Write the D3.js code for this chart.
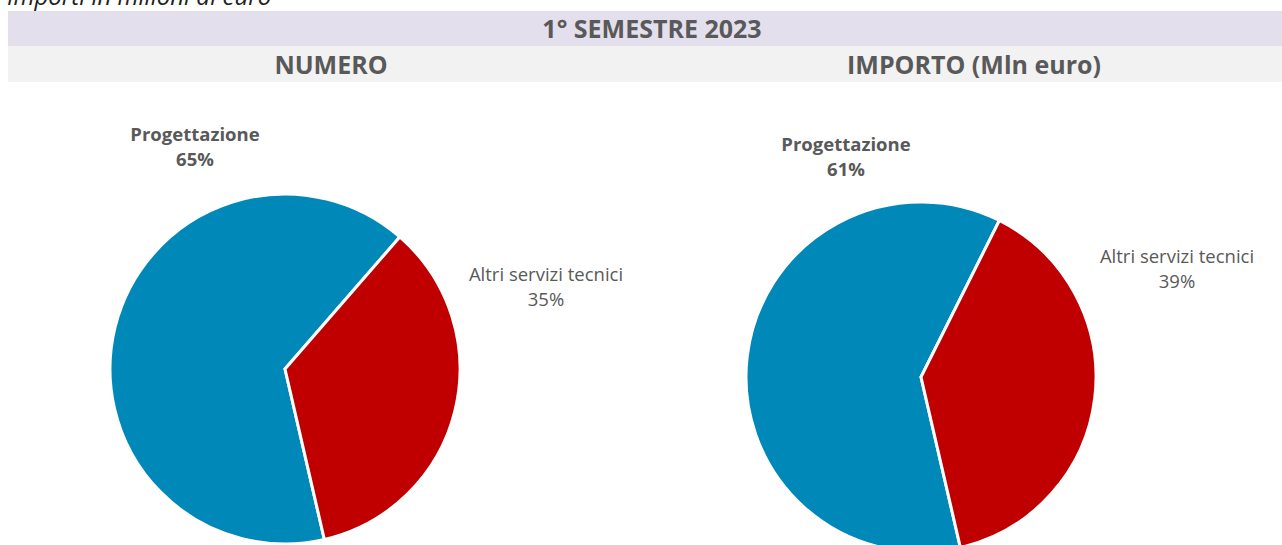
<!DOCTYPE html>
<html lang="it">
<head>
<meta charset="utf-8">
<title>1° semestre 2023</title>
<script src="https://d3js.org/d3.v7.min.js"></script>
<style>
  body { margin: 0; background: #fff; }
  text { font-family: "Open Sans", Lato, sans-serif; fill: #595959; }
</style>
</head>
<body>
<div id="chart"></div>
<script>
// data
var categories = ["Progettazione", "Altri servizi tecnici"];
var numeroShare = [65, 35];
var importoShare = [61, 39];
var panelTitles = ["NUMERO", "IMPORTO (Mln euro)"];
var periodTitle = "1° SEMESTRE 2023";
var subtitle = "Importi in milioni di euro";

var W = 1282, H = 545;
var color = d3.scaleOrdinal().domain(categories).range(["#0088B8", "#C00000"]);

var svg = d3.select("#chart").append("svg")
    .attr("width", W)
    .attr("height", H);

// subtitle, cut off at the top edge as in the source
svg.append("text")
    .attr("x", 7)
    .attr("y", 5)
    .style("font-style", "italic")
    .style("font-size", "24px")
    .style("fill", "#222")
    .text(subtitle);

// header bands
svg.append("rect").attr("x", 8).attr("y", 11).attr("width", W - 8).attr("height", 35).attr("fill", "#E4DFEC");
svg.append("rect").attr("x", 8).attr("y", 46).attr("width", W - 8).attr("height", 36).attr("fill", "#F2F2F2");

svg.append("text")
    .attr("x", 652).attr("y", 38)
    .attr("text-anchor", "middle")
    .style("font-weight", "bold")
    .style("font-size", "25px")
    .text(periodTitle);

var panelX = [331, 974];
svg.selectAll("text.ptitle")
    .data(panelTitles)
    .enter().append("text")
    .attr("class", "ptitle")
    .attr("x", function(d, i) { return panelX[i]; })
    .attr("y", 74)
    .attr("text-anchor", "middle")
    .style("font-weight", "bold")
    .style("font-size", "25px")
    .text(function(d) { return d; });

var radius = 175;
var pie = d3.pie().sort(null)
    .startAngle(167 * Math.PI / 180)
    .endAngle(167 * Math.PI / 180 + 2 * Math.PI);
var arc = d3.arc().innerRadius(0).outerRadius(radius);

var panels = [
    { values: numeroShare, cx: 285, cy: 369,
      lab: [[195, 141], [546, 281]] },
    { values: importoShare, cx: 921, cy: 377,
      lab: [[846, 151], [1177, 263]] }
];

panels.forEach(function(p) {
    var g = svg.append("g").attr("transform", "translate(" + p.cx + "," + p.cy + ")");
    var arcs = pie(p.values);

    g.selectAll("path")
        .data(arcs)
        .enter().append("path")
        .attr("d", arc)
        .attr("fill", function(d, i) { return color(categories[i]); })
        .attr("stroke", "#fff")
        .attr("stroke-width", 3)
        .attr("stroke-linejoin", "miter");

    // data labels
    categories.forEach(function(c, i) {
        var t = svg.append("text")
            .attr("x", p.lab[i][0])
            .attr("y", p.lab[i][1])
            .attr("text-anchor", "middle")
            .style("font-size", "18.5px")
            .style("font-weight", i === 0 ? "bold" : "normal");
        t.append("tspan").attr("x", p.lab[i][0]).attr("dy", 0).text(c);
        t.append("tspan").attr("x", p.lab[i][0]).attr("dy", 25).text(p.values[i] + "%");
    });
});
</script>
</body>
</html>
